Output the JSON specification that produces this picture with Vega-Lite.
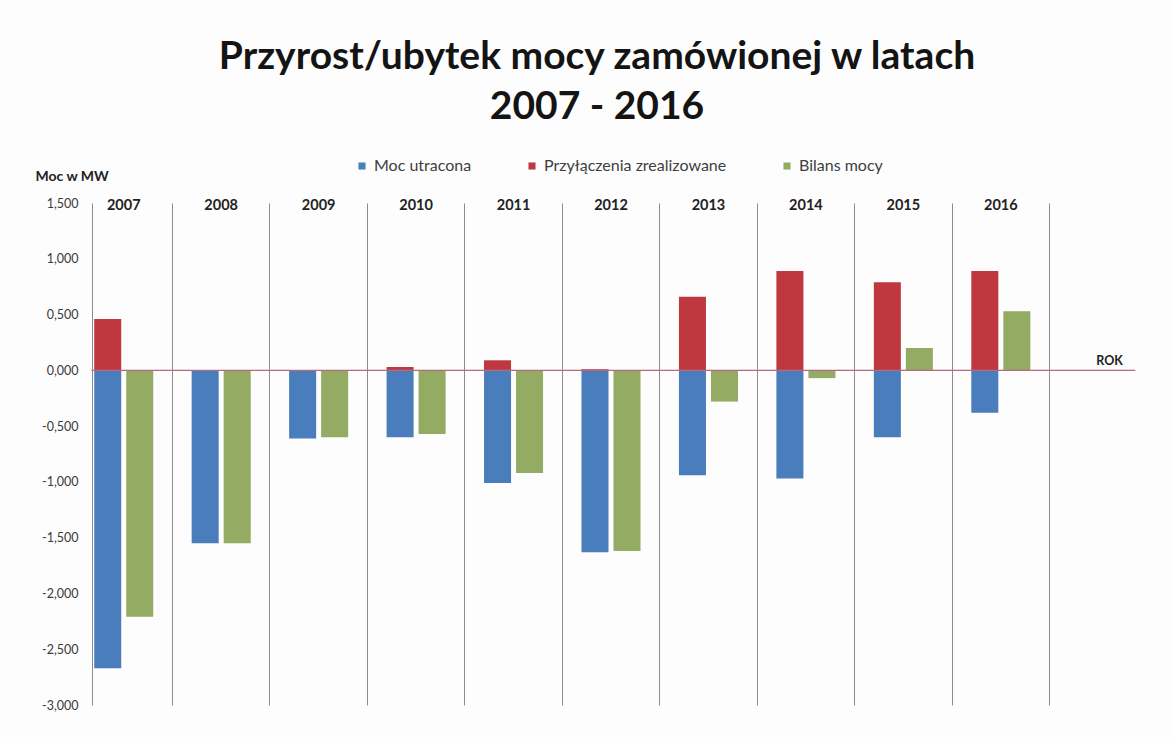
{
  "$schema": "https://vega.github.io/schema/vega-lite/v6.json",
  "autosize": {"type": "none"},
  "width": 1072,
  "height": 502,
  "padding": {"left": 75, "top": 203, "right": 26, "bottom": 32},
  "background": "#fdfdfd",
  "title": {
    "text": ["Przyrost/ubytek mocy zamówionej w latach", "2007 - 2016"],
    "font": "Lato",
    "fontSize": 39,
    "fontWeight": "bold",
    "color": "#141414",
    "lineHeight": 50,
    "anchor": "middle",
    "dx": -14,
    "offset": 31,
    "frame": "group"
  },
  "config": {"view": {"stroke": null}, "font": "Lato"},
  "data": {
    "values": [
      {"rok": "2007", "seria": "Moc utracona", "grupa": "Składniki", "moc": -2.67},
      {"rok": "2007", "seria": "Przyłączenia zrealizowane", "grupa": "Składniki", "moc": 0.46},
      {"rok": "2007", "seria": "Bilans mocy", "grupa": "Bilans", "moc": -2.21},
      {"rok": "2008", "seria": "Moc utracona", "grupa": "Składniki", "moc": -1.55},
      {"rok": "2008", "seria": "Przyłączenia zrealizowane", "grupa": "Składniki", "moc": 0.0},
      {"rok": "2008", "seria": "Bilans mocy", "grupa": "Bilans", "moc": -1.55},
      {"rok": "2009", "seria": "Moc utracona", "grupa": "Składniki", "moc": -0.61},
      {"rok": "2009", "seria": "Przyłączenia zrealizowane", "grupa": "Składniki", "moc": 0.0},
      {"rok": "2009", "seria": "Bilans mocy", "grupa": "Bilans", "moc": -0.6},
      {"rok": "2010", "seria": "Moc utracona", "grupa": "Składniki", "moc": -0.6},
      {"rok": "2010", "seria": "Przyłączenia zrealizowane", "grupa": "Składniki", "moc": 0.03},
      {"rok": "2010", "seria": "Bilans mocy", "grupa": "Bilans", "moc": -0.57},
      {"rok": "2011", "seria": "Moc utracona", "grupa": "Składniki", "moc": -1.01},
      {"rok": "2011", "seria": "Przyłączenia zrealizowane", "grupa": "Składniki", "moc": 0.09},
      {"rok": "2011", "seria": "Bilans mocy", "grupa": "Bilans", "moc": -0.92},
      {"rok": "2012", "seria": "Moc utracona", "grupa": "Składniki", "moc": -1.63},
      {"rok": "2012", "seria": "Przyłączenia zrealizowane", "grupa": "Składniki", "moc": 0.01},
      {"rok": "2012", "seria": "Bilans mocy", "grupa": "Bilans", "moc": -1.62},
      {"rok": "2013", "seria": "Moc utracona", "grupa": "Składniki", "moc": -0.94},
      {"rok": "2013", "seria": "Przyłączenia zrealizowane", "grupa": "Składniki", "moc": 0.66},
      {"rok": "2013", "seria": "Bilans mocy", "grupa": "Bilans", "moc": -0.28},
      {"rok": "2014", "seria": "Moc utracona", "grupa": "Składniki", "moc": -0.97},
      {"rok": "2014", "seria": "Przyłączenia zrealizowane", "grupa": "Składniki", "moc": 0.89},
      {"rok": "2014", "seria": "Bilans mocy", "grupa": "Bilans", "moc": -0.07},
      {"rok": "2015", "seria": "Moc utracona", "grupa": "Składniki", "moc": -0.6},
      {"rok": "2015", "seria": "Przyłączenia zrealizowane", "grupa": "Składniki", "moc": 0.79},
      {"rok": "2015", "seria": "Bilans mocy", "grupa": "Bilans", "moc": 0.2},
      {"rok": "2016", "seria": "Moc utracona", "grupa": "Składniki", "moc": -0.38},
      {"rok": "2016", "seria": "Przyłączenia zrealizowane", "grupa": "Składniki", "moc": 0.89},
      {"rok": "2016", "seria": "Bilans mocy", "grupa": "Bilans", "moc": 0.53}
    ]
  },
  "layer": [
    {
      "mark": {"type": "bar"},
      "encoding": {
        "x": {
          "field": "rok",
          "type": "nominal",
          "scale": {
            "domain": ["2007", "2008", "2009", "2010", "2011", "2012", "2013", "2014", "2015", "2016", "ROK"],
            "paddingInner": 0,
            "paddingOuter": 0
          },
          "axis": {
            "orient": "bottom",
            "labels": false,
            "ticks": false,
            "domain": false,
            "title": null,
            "grid": true,
            "bandPosition": 0,
            "gridColor": "#8e8898",
            "gridWidth": 1,
            "gridOpacity": {"condition": {"test": "datum.value === '2007'", "value": 0}, "value": 1}
          }
        },
        "xOffset": {
          "field": "grupa",
          "type": "nominal",
          "scale": {"domain": ["Składniki", "Bilans"], "paddingInner": 0.156, "paddingOuter": 0.6}
        },
        "y": {
          "field": "moc",
          "type": "quantitative",
          "stack": null,
          "scale": {"domain": [-3, 1.5], "nice": false, "zero": false},
          "axis": {
            "orient": "left",
            "offset": -17,
            "values": [-3, -2.5, -2, -1.5, -1, -0.5, 0, 0.5, 1, 1.5],
            "labelExpr": "replace(replace(format(datum.value, '.3f'), '.', ','), '\u2212', '-')",
            "grid": false,
            "ticks": false,
            "domain": true,
            "domainColor": "#8e8898",
            "labelFont": "Lato",
            "labelFontSize": 12.5,
            "labelColor": "#3a3a3a",
            "labelPadding": 14,
            "title": "Moc w MW",
            "titleAngle": 0,
            "titleAlign": "left",
            "titleBaseline": "middle",
            "titleX": -57,
            "titleY": -27,
            "titleFont": "Lato",
            "titleFontSize": 14,
            "titleFontWeight": "bold",
            "titleColor": "#222222"
          }
        },
        "color": {
          "field": "seria",
          "type": "nominal",
          "scale": {
            "domain": ["Moc utracona", "Przyłączenia zrealizowane", "Bilans mocy"],
            "range": ["#4a7dbb", "#c0383f", "#93ab62"]
          },
          "legend": {
            "orient": "none",
            "legendX": 279,
            "legendY": -45,
            "direction": "horizontal",
            "title": null,
            "symbolType": "square",
            "symbolSize": 50,
            "labelFont": "Lato",
            "labelFontSize": 16,
            "labelColor": "#404040",
            "labelLimit": 400,
            "labelOffset": 4,
            "columnPadding": 52,
            "padding": 0
          }
        }
      }
    },
    {
      "transform": [{"filter": "datum.grupa === 'Bilans'"}],
      "mark": {"type": "text", "font": "Lato", "fontSize": 14.5, "fontWeight": "bold", "color": "#222222", "baseline": "middle", "dy": 3},
      "encoding": {
        "x": {"field": "rok", "type": "nominal"},
        "y": {"datum": 1.5},
        "text": {"field": "rok"}
      }
    },
    {
      "data": {"values": [{"linia": "zero"}]},
      "mark": {"type": "rule", "color": "#b56a80", "strokeWidth": 1.2},
      "encoding": {
        "x": {"datum": "2007", "bandPosition": 0.17},
        "x2": {"datum": "ROK", "bandPosition": 0.88},
        "y": {"datum": 0}
      }
    },
    {
      "data": {"values": [{"etykieta": "ROK"}]},
      "mark": {"type": "text", "font": "Lato", "fontSize": 12.5, "fontWeight": "bold", "align": "left", "baseline": "middle", "dx": -2, "dy": -9, "color": "#222222"},
      "encoding": {
        "x": {"datum": "ROK"},
        "y": {"datum": 0},
        "text": {"field": "etykieta"}
      }
    }
  ]
}
